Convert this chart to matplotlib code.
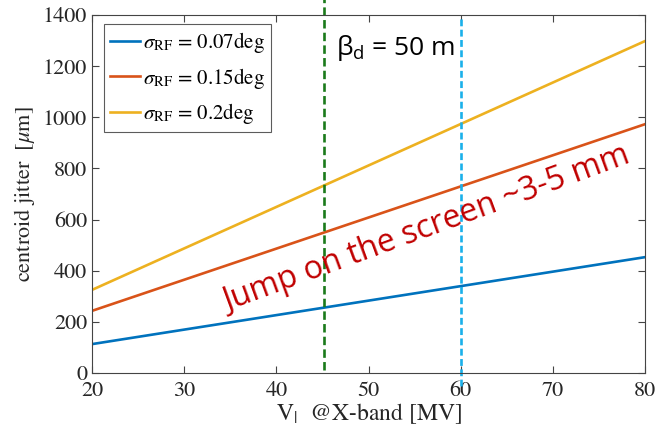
import matplotlib
matplotlib.use("Agg")
import matplotlib.pyplot as plt
import numpy as np

x_vals = [20, 80]
blue_vals = [113, 453]
red_vals = [243, 973]
yellow_vals = [325, 1298]
labels = [r"$\sigma_{\rm RF}$ = 0.07deg", r"$\sigma_{\rm RF}$ = 0.15deg", r"$\sigma_{\rm RF}$ = 0.2deg"]
colors = ["#0072BD", "#D95319", "#EDB120"]
green_x = 45.2
cyan_x = 60

plt.rcParams['mathtext.fontset'] = 'stix'
plt.rcParams['font.family'] = 'STIXGeneral'

fig = plt.figure(figsize=(6.58, 4.36), dpi=100)
ax = fig.add_axes([92/658, 1-373/436, (645-92)/658, (373-15)/436])

for ys, c, l in zip([blue_vals, red_vals, yellow_vals], colors, labels):
    ax.plot(x_vals, ys, color=c, lw=1.9, label=l)
ax.plot([green_x, green_x], [10, 1465], color="#1a7a1a", ls=(0, (3.2, 1.6)), lw=1.9, clip_on=False)
ax.plot([cyan_x, cyan_x], [-50, 1390], color="#1ab0ea", ls=(0, (2.6, 1.3)), lw=1.9, clip_on=False)

ax.set_xlim(20, 80)
ax.set_ylim(0, 1400)
ax.set_xticks(np.arange(20, 81, 10))
ax.set_yticks(np.arange(0, 1401, 200))
ax.tick_params(labelsize=16, direction='in', length=5, color='#444444', labelcolor='#262626',
               top=True, right=True)
ax.tick_params(axis='x', pad=6)
for s in ax.spines.values():
    s.set_color('#444444')
ax.set_xlabel(r"V$_{|}$  @X-band [MV]", fontsize=17, color='#262626', labelpad=0)
ax.set_ylabel(r"centroid jitter  [$\mu$m]", fontsize=16, color='#262626', labelpad=4)

leg = ax.legend(loc='upper left', bbox_to_anchor=(0.021, 0.975), fontsize=15, frameon=True,
                fancybox=False, edgecolor='#333333', handlelength=1.45, handletextpad=0.15,
                borderaxespad=0.0, labelspacing=0.5, borderpad=0.3)
leg.get_frame().set_linewidth(0.8)

ax.text(46.47, 1243, r"$\mathregular{\beta_d}$ = 50 m", fontsize=19, family='Open Sans', color='black', va='baseline')
ax.text(56.66, 532, "Jump on the screen ~3-5 mm", fontsize=23, family='Open Sans', color='#c00000',
        rotation=20.2, rotation_mode='anchor', ha='center', va='baseline')

fig.savefig("out.png", dpi=100)
